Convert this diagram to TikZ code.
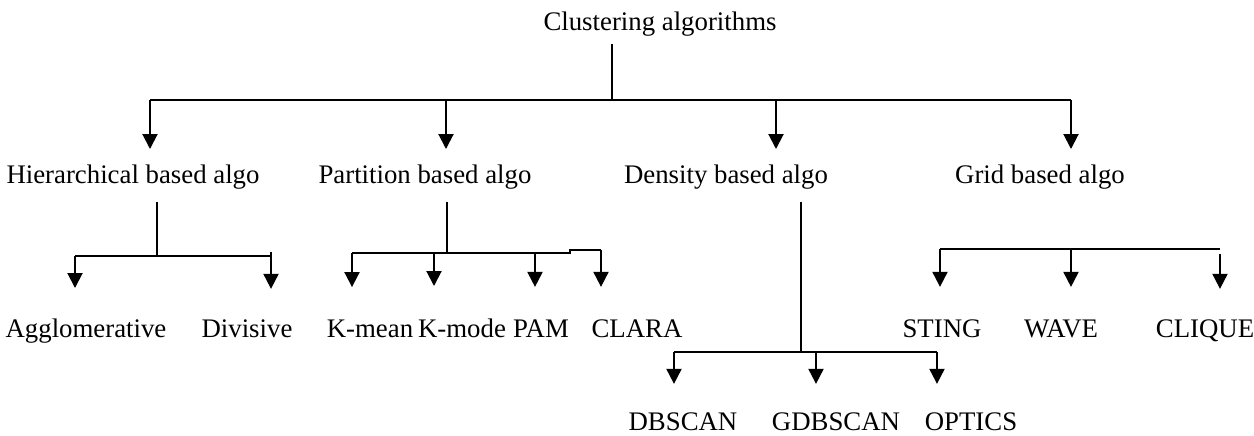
\documentclass[tikz,border=0pt]{standalone}
\usepackage{fontspec}
\setmainfont{Liberation Serif}
\usetikzlibrary{arrows.meta}
\begin{document}
\begin{tikzpicture}[x=0.5pt,y=-0.5pt,
  lbl/.style={anchor=base,inner sep=0pt,font=\fontsize{13.4}{16}\selectfont},
  ln/.style={line width=1pt},
  stem/.style={line width=0.8pt},
  arr/.style={line width=1pt,-{Triangle[width=7.5pt,length=7.5pt]}}]
\useasboundingbox (0,0) rectangle (1254,435);
% texts
\node[lbl] (root) at (660,30) {Clustering algorithms};
\node[lbl] (hier) at (133,183) {Hierarchical based algo};
\node[lbl] (part) at (425,183) {Partition based algo};
\node[lbl] (dens) at (726,183) {Density based algo};
\node[lbl] (grid) at (1040,183) {Grid based algo};
\node[lbl] (aggl) at (86,337) {Agglomerative};
\node[lbl] (divi) at (247,337) {Divisive};
\node[lbl] (kmean) at (370,337) {K-mean};
\node[lbl] (kmode) at (462,337) {K-mode};
\node[lbl] (pam) at (541,337) {PAM};
\node[lbl] (clara) at (637,337) {CLARA};
\node[lbl] (sting) at (942,337) {STING};
\node[lbl] (wave) at (1061,337) {WAVE};
\node[lbl] (clique) at (1205,337) {CLIQUE};
\node[lbl] (dbscan) at (683,430) {DBSCAN};
\node[lbl] (gdbscan) at (836,430) {GDBSCAN};
\node[lbl] (optics) at (971,430) {OPTICS};
% junctions
\coordinate (j0) at (612,100);
\coordinate (b1) at (150,100);
\coordinate (b2) at (446,100);
\coordinate (b3) at (776,100);
\coordinate (b4) at (1071,100);
\coordinate (jh) at (157,256);
\coordinate (h1) at (75,256);
\coordinate (h2) at (271,256);
\coordinate (jp) at (447,253);
\coordinate (p1) at (352,253);
\coordinate (p2) at (434,253);
\coordinate (p3) at (535,253);
\coordinate (pe) at (570,253);
\coordinate (p4) at (601,250);
\coordinate (jd) at (801,352);
\coordinate (d1) at (674,352);
\coordinate (d2) at (816,352);
\coordinate (d3) at (937,352);
\coordinate (g1) at (940,249);
\coordinate (g2) at (1071,249);
\coordinate (g3) at (1220,249);
% root
\draw[stem] ([yshift=-4pt]j0 |- root.south) -- (j0);
\draw[ln] (b1) -- (b4);
\draw[arr] (b1) -- ([yshift=7.5pt]b1 |- hier.north);
\draw[arr] (b2) -- ([yshift=7.5pt]b2 |- part.north);
\draw[arr] (b3) -- ([yshift=7.5pt]b3 |- dens.north);
\draw[arr] (b4) -- ([yshift=7.5pt]b4 |- grid.north);
% hierarchical
\draw[stem] ([yshift=-6.5pt]jh |- hier.south) -- (jh);
\draw[ln] (h1) -- (h2);
\draw[arr] (h1) -- ([yshift=15pt]h1 |- aggl.north);
\draw[arr] ([yshift=2pt]h2) -- ([yshift=15pt]h2 |- divi.north);
% partition
\draw[stem] ([yshift=-6.5pt]jp |- part.south) -- (jp);
\draw[ln] (p1) -- (pe) |- (p4);
\draw[arr] (p1) -- ([yshift=16pt]p1 |- kmean.north);
\draw[arr] (p2) -- ([yshift=16pt]p2 |- kmode.north);
\draw[arr] (p3) -- ([yshift=16pt]p3 |- pam.north);
\draw[arr] (p4) -- ([yshift=16pt]p4 |- clara.north);
% density
\draw[stem] ([yshift=-6.5pt]jd |- dens.south) -- (jd);
\draw[ln] (d1) -- (d3);
\draw[arr] (d1) -- ([yshift=14pt]d1 |- dbscan.north);
\draw[arr] (d2) -- ([yshift=14pt]d2 |- gdbscan.north);
\draw[arr] (d3) -- ([yshift=14pt]d3 |- optics.north);
% grid
\draw[ln] (g1) -- (g3);
\draw[arr] (g1) -- ([yshift=16pt]g1 |- sting.north);
\draw[arr] (g2) -- ([yshift=16pt]g2 |- wave.north);
\draw[arr] ([yshift=-2.5pt]g3) -- ([yshift=15pt]g3 |- clique.north);
\end{tikzpicture}
\end{document}
